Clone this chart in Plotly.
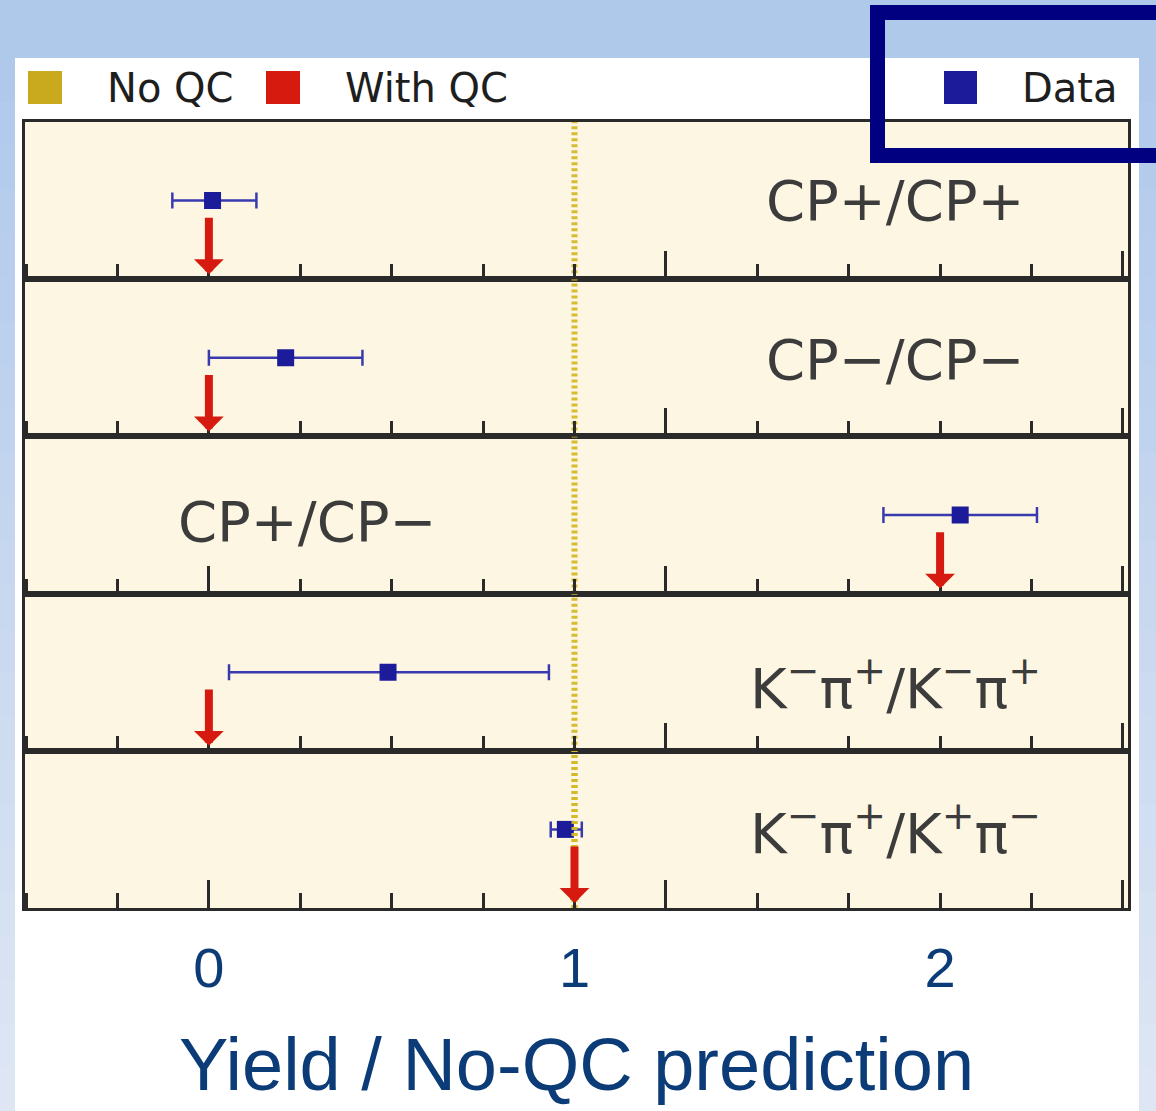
import plotly.graph_objects as go

# ---------------- data ----------------
categories = ["CP+/CP+", "CP−/CP−", "CP+/CP−",
              "K<sup>−</sup>π<sup>+</sup>/K<sup>−</sup>π<sup>+</sup>",
              "K<sup>−</sup>π<sup>+</sup>/K<sup>+</sup>π<sup>−</sup>"]
data_val = [0.01, 0.21, 2.055, 0.49, 0.975]
data_err_minus = [0.11, 0.21, 0.21, 0.435, 0.04]
data_err_plus = [0.12, 0.21, 0.21, 0.44, 0.045]
with_qc = [0.0, 0.0, 2.0, 0.0, 1.0]
no_qc = [1.0, 1.0, 1.0, 1.0, 1.0]
tick_vals = [0, 1, 2]
tick_text = ["0", "1", "2"]
legend_names = ["No QC", "With QC", "Data"]

# ---------------- layout constants ----------------
W, H = 1156, 1111
ML, MR, MT, MB = 25, 28, 122, 203
PW, PH = W - ML - MR, H - MT - MB
XR = [-0.503, 2.514]
N = len(categories)
label_x = [1.877, 1.877, 0.268, 1.877, 1.877]
label_y = [0.5, 0.49, 0.46, 0.42, 0.5]

C_DATA = "#1c1c9a"
C_ERR = "#3a3ab0"
C_QC = "#d61a10"
C_NOQC = "#c9aa1f"
C_NAVY = "#0b3c78"
AX = "#2a2a2a"


def px(x):
    return (x - ML) / PW


def py(y):
    return (H - MB - y) / PH


fig = go.Figure()
layout = dict(
    width=W, height=H,
    margin=dict(l=ML, r=MR, t=MT, b=MB, autoexpand=False),
    paper_bgcolor="white",
    plot_bgcolor="#fdf6e2",
    showlegend=False,
    font=dict(family="DejaVu Sans", color="#222"),
)

annotations = []
for i in range(N):
    k = i + 1
    xa = "x" if k == 1 else f"x{k}"
    ya = "y" if k == 1 else f"y{k}"
    d0 = (N - 1 - i) / N
    d1 = (N - i) / N
    layout["xaxis" if k == 1 else f"xaxis{k}"] = dict(
        domain=[0, 1], anchor=ya, range=XR, showgrid=False, zeroline=False,
        showline=True, linewidth=3, linecolor=AX, mirror=True,
        ticks="inside", tickvals=[0, 1.25, 2.5], ticklen=28, tickwidth=3,
        tickcolor=AX, showticklabels=False,
        minor=dict(ticks="inside", dtick=0.25, tick0=0, ticklen=15,
                   tickwidth=3, tickcolor=AX),
    )
    layout["yaxis" if k == 1 else f"yaxis{k}"] = dict(
        domain=[d0, d1], anchor=xa, range=[0, 1], showgrid=False,
        zeroline=False, showline=True, linewidth=3, linecolor=AX,
        mirror=True, ticks="", showticklabels=False,
    )
    # No-QC prediction (dotted yellow line)
    fig.add_trace(go.Scatter(
        x=[no_qc[i], no_qc[i]], y=[0, 1], mode="lines",
        line=dict(color="rgba(212,184,40,0.95)", width=6, dash="3px,3px"),
        xaxis=xa, yaxis=ya, hoverinfo="skip", name=legend_names[0]))
    # Data point with error bar
    fig.add_trace(go.Scatter(
        x=[data_val[i]], y=[0.5], mode="markers",
        marker=dict(symbol="square", size=17, color=C_DATA),
        error_x=dict(type="data", symmetric=False, array=[data_err_plus[i]],
                     arrayminus=[data_err_minus[i]], color=C_ERR,
                     thickness=2.5, width=8),
        xaxis=xa, yaxis=ya, name=legend_names[2]))
    # With-QC prediction (red arrow)
    annotations.append(dict(
        x=with_qc[i], y=0, ax=with_qc[i], ay=0.4,
        xref=xa, yref=ya, axref=xa, ayref=ya, text="",
        showarrow=True, arrowhead=1, arrowwidth=8, arrowsize=0.62,
        arrowcolor=C_QC, standoff=5))
    # Row label
    annotations.append(dict(
        x=label_x[i], y=label_y[i], xref=xa, yref=ya, text=categories[i],
        showarrow=False, xanchor="center", yanchor="middle",
        font=dict(family="DejaVu Sans", size=56, color="#3c3c3c")))

# overlay axis for tick labels and title on the bottom row
layout["xaxis6"] = dict(
    overlaying="x5", anchor="y5", range=XR, showgrid=False, zeroline=False,
    showline=False, ticks="", tickvals=tick_vals, ticktext=tick_text,
    tickfont=dict(family="Liberation Sans", size=56, color=C_NAVY),
    ticklabelstandoff=22,
    title=dict(text="Yield / No-QC prediction", standoff=40,
               font=dict(family="Liberation Sans", size=74, color=C_NAVY)),
)
fig.add_trace(go.Scatter(
    x=[no_qc[-1], no_qc[-1]], y=[0, 1], mode="lines",
    line=dict(color="rgba(212,184,40,0.95)", width=6, dash="3px,3px"),
    xaxis="x6", yaxis="y5", hoverinfo="skip", name=legend_names[0]))

# ---------------- background (slide) ----------------
shapes = []
# top band
shapes.append(dict(type="rect", xref="paper", yref="paper", layer="below",
                   x0=px(0), x1=px(W), y0=py(0), y1=py(58),
                   fillcolor="#afc9eb", line=dict(width=0)))
# side strips with vertical gradient
nseg = 24
top_rgb = (176, 201, 235)
bot_rgb = (222, 230, 243)
for s in range(nseg):
    t = s / (nseg - 1)
    c = tuple(int(round(a + (b - a) * t)) for a, b in zip(top_rgb, bot_rgb))
    col = "rgb(%d,%d,%d)" % c
    y0p = 58 + s * (H - 58) / nseg
    y1p = 58 + (s + 1) * (H - 58) / nseg + 1
    for xa0, xa1 in [(0, 15), (1139, W)]:
        shapes.append(dict(type="rect", xref="paper", yref="paper",
                           layer="below", x0=px(xa0), x1=px(xa1),
                           y0=py(y1p), y1=py(y0p), fillcolor=col,
                           line=dict(width=0)))

# legend keys
leg_keys = [(28, 62, C_NOQC, 105, legend_names[0]),
            (266, 300, C_QC, 343, legend_names[1]),
            (944, 977, C_DATA, 1020, legend_names[2])]
for x0, x1, col, tx, name in leg_keys:
    shapes.append(dict(type="rect", xref="paper", yref="paper",
                       x0=px(x0), x1=px(x1), y0=py(104), y1=py(71),
                       fillcolor=col, line=dict(width=0)))
    annotations.append(dict(x=px(tx), y=py(88), xref="paper", yref="paper",
                            text=name, showarrow=False, xanchor="left",
                            yanchor="middle",
                            font=dict(family="DejaVu Sans", size=40,
                                      color="#1e1e1e")))

# highlight box (top right)
shapes.append(dict(type="rect", xref="paper", yref="paper",
                   x0=px(877.5), x1=px(1175), y0=py(155.5), y1=py(12.5),
                   line=dict(color="#000080", width=15),
                   fillcolor="rgba(0,0,0,0)"))

layout["shapes"] = shapes
layout["annotations"] = annotations
fig.update_layout(**layout)

fig.write_html("out.html")
